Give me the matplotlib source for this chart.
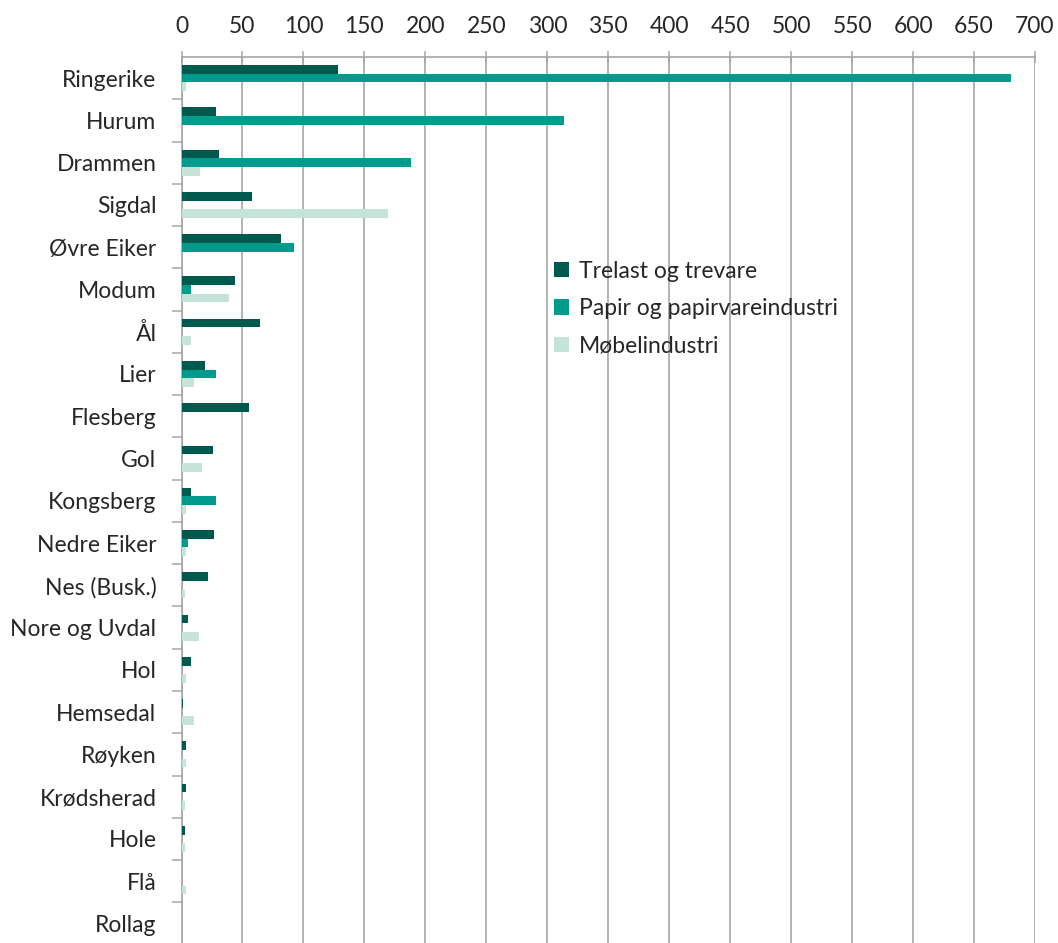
import numpy as np
import matplotlib
matplotlib.use("Agg")
import matplotlib.pyplot as plt

# kommuner (ovenfra og ned)
kommuner = ["Ringerike", "Hurum", "Drammen", "Sigdal", "Øvre Eiker", "Modum",
            "Ål", "Lier", "Flesberg", "Gol", "Kongsberg", "Nedre Eiker",
            "Nes (Busk.)", "Nore og Uvdal", "Hol", "Hemsedal", "Røyken",
            "Krødsherad", "Hole", "Flå", "Rollag"]

trelast = [128, 28.5, 30.5, 57.5, 82, 44, 64, 19.5, 55, 25.5, 8, 26.5,
           21.5, 5, 8, 1.5, 4, 4, 2.5, 0, 0]
papir = [680, 314, 188, 0, 92, 8, 0, 28.5, 0, 0, 28.5, 5,
         0, 0, 0, 0, 0, 0, 0, 0, 0]
mobel = [4, 0, 15, 169, 0, 39, 8, 10, 0, 16.5, 3.3, 3.3,
         2.5, 14.5, 4, 10, 3.3, 2.5, 2.5, 3.3, 0]

serier = ["Trelast og trevare", "Papir og papirvareindustri", "Møbelindustri"]
farger = ["#00594d", "#009b8d", "#c6e3d7"]
xticks = list(range(0, 701, 50))

plt.rcParams["font.family"] = ["Lato", "DejaVu Sans"]
plt.rcParams["font.size"] = 16.5

fig = plt.figure(figsize=(10.58, 9.43), dpi=100)
W, H = 1058, 943
x0, x1 = 181.5, 1035
y_top, y_bot = 57, 944.6
ax = fig.add_axes([x0 / W, 1 - y_bot / H, (x1 - x0) / W, (y_bot - y_top) / H])

y = np.arange(len(kommuner))
h = 0.205
for i, (vals, navn, c) in enumerate(zip([trelast, papir, mobel], serier, farger)):
    ax.barh(y + (i - 1) * h, vals, height=h, color=c, label=navn, zorder=3)

ax.set_xlim(0, 700)
ax.set_ylim(len(kommuner) - 0.5, -0.5)

ax.xaxis.tick_top()
ax.set_xticks(xticks)
ax.tick_params(axis="x", direction="inout", length=9, width=1.1,
               color="#a6a6a6", pad=10, labelcolor="#262626")
ax.grid(axis="x", color="#a6a6a6", linewidth=1.2, zorder=0)

ax.set_yticks(y)
ax.set_yticklabels(kommuner)
ax.set_yticks(np.arange(0.5, len(kommuner) - 1, 1), minor=True)
ax.tick_params(axis="y", which="major", length=0, pad=18, labelcolor="#262626")
ax.tick_params(axis="y", which="minor", direction="out", length=7,
               width=1.1, color="#a6a6a6")

for s in ["right", "bottom"]:
    ax.spines[s].set_visible(False)
for s in ["left", "top"]:
    ax.spines[s].set_color("#a6a6a6")
    ax.spines[s].set_linewidth(1.2)

leg = ax.legend(loc="upper left", bbox_to_anchor=(533 / W, 1 - 240 / H),
                bbox_transform=fig.transFigure, frameon=False,
                handlelength=0.65, handleheight=0.65, handletextpad=0.45,
                labelspacing=0.72, fontsize=16.5)
for t in leg.get_texts():
    t.set_color("#262626")

fig.savefig("out.png", dpi=100)
